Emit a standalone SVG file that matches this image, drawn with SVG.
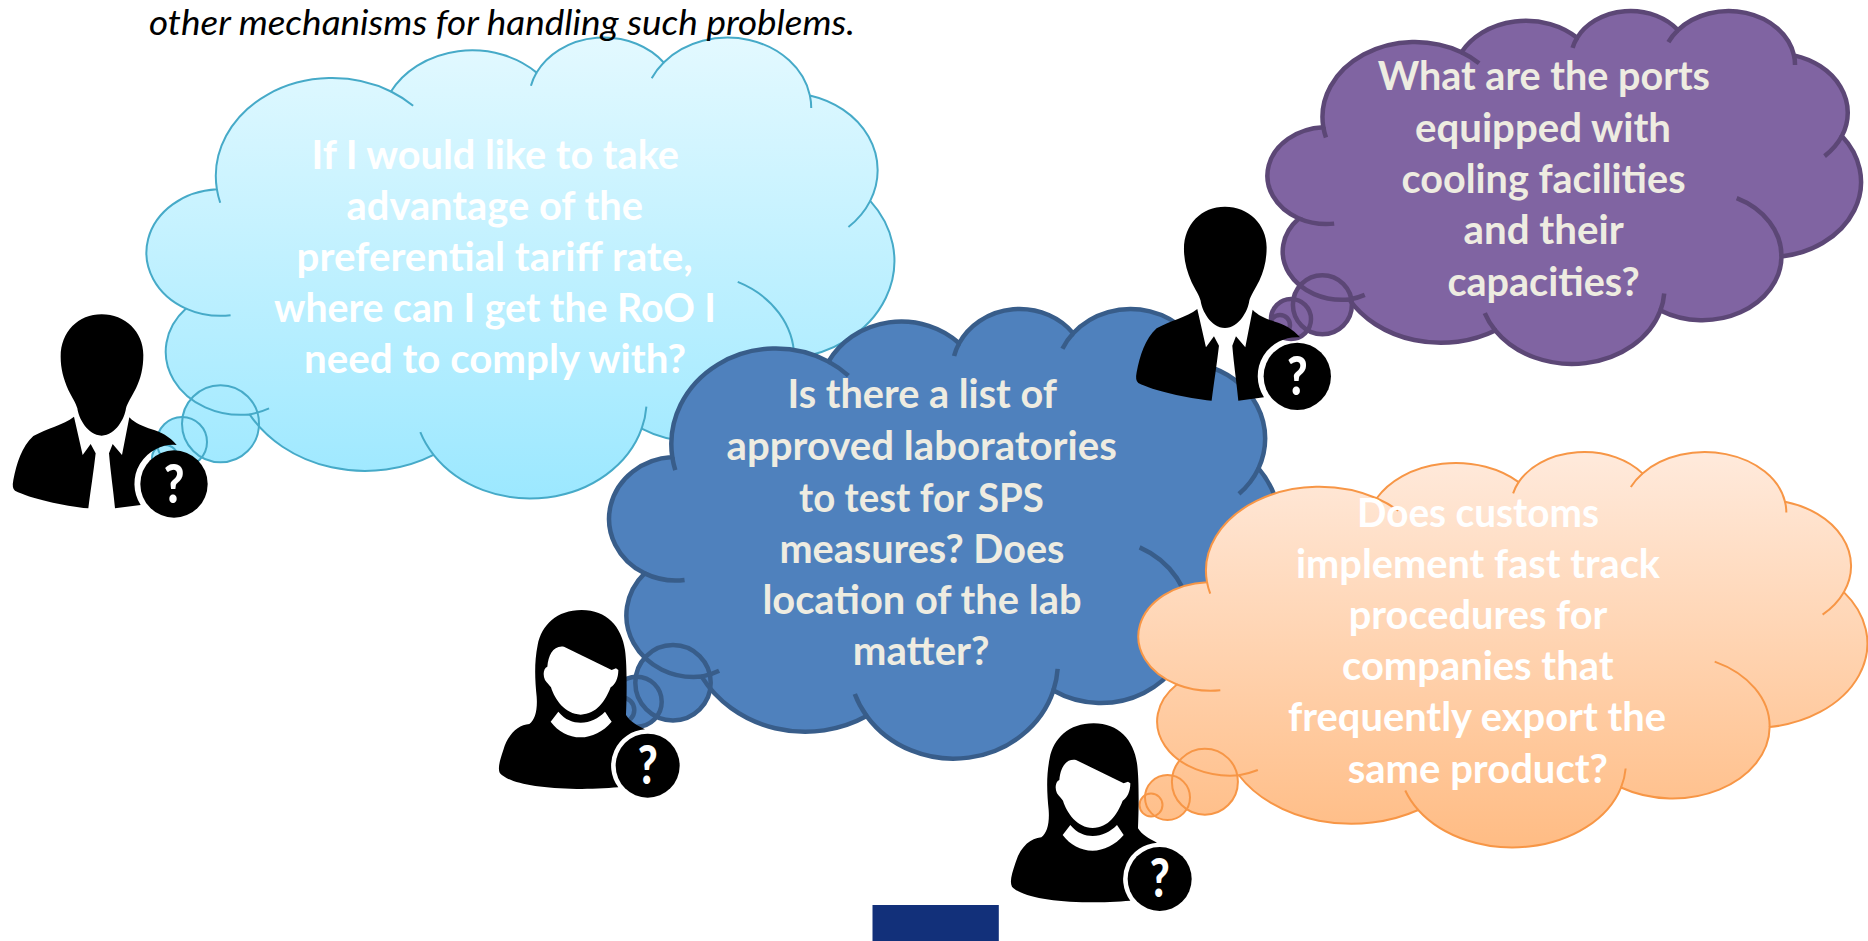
<svg xmlns="http://www.w3.org/2000/svg" xmlns:xlink="http://www.w3.org/1999/xlink" width="1868" height="941" viewBox="0 0 1868 941">
<style>
.q{font-family:Lato,"Liberation Sans",sans-serif;font-weight:700;font-size:40px}
.w{fill:#fff}.t{fill:#EEECE1}
.ns{vector-effect:non-scaling-stroke}
.d{fill:none}
.b{stroke:none}
.s{fill:none}
.qm{font-family:Lato,"Liberation Sans",sans-serif;font-weight:900;font-size:160px;fill:#fff;text-anchor:middle}
.top{font-family:Lato,"Liberation Sans",sans-serif;font-style:italic;font-size:35px;fill:#000}
</style>
<defs>
<linearGradient id="cy" x1="0" y1="0" x2="0" y2="1"><stop offset="0" stop-color="#E3F9FF"/><stop offset="1" stop-color="#9CE8FF"/></linearGradient>
<linearGradient id="cyU" gradientUnits="userSpaceOnUse" x1="0" y1="36" x2="0" y2="499"><stop offset="0" stop-color="#E3F9FF"/><stop offset="1" stop-color="#9CE8FF"/></linearGradient>
<linearGradient id="or" x1="0" y1="0" x2="0" y2="1"><stop offset="0" stop-color="#FFEADC"/><stop offset="1" stop-color="#FFBC84"/></linearGradient>
<linearGradient id="orU" gradientUnits="userSpaceOnUse" x1="0" y1="451" x2="0" y2="848"><stop offset="0" stop-color="#FFEADC"/><stop offset="1" stop-color="#FFBC84"/></linearGradient>
<path id="cl" class="ns" d="M3900 14370A6753 9190 0 0 1 14004 5201A5333 7267 0 0 1 22455 3432A4365 5945 0 0 1 29832 2481A4857 6595 0 0 1 38317 5576A5333 7273 0 0 1 41818 15459A6775 9220 0 0 1 37402 30204A5785 7867 0 0 1 28551 36812A6752 9215 0 0 1 16476 39264A7720 10543 0 0 1 5799 35470A4360 5918 0 0 1 2107 25548A4345 5945 0 0 1 3900 14370Z"/>
<path id="de" class="ns d" d="M4693 26177A4345 5945 0 0 1 2107 25548M6928 34899A4360 5918 0 0 1 5799 35470M16476 39264A6752 9215 0 0 1 15705 37141M28827 34735A6752 9215 0 0 1 28551 36812M34129 23054A5785 7867 0 0 1 37402 30204M41818 15459A5333 7273 0 0 1 40553 17912M38317 5576A4857 6595 0 0 1 38394 6745M29135 3958A4857 6595 0 0 1 29832 2481M22127 4659A4365 5945 0 0 1 22455 3432M14004 5201A6753 9190 0 0 1 15290 6544M3900 14370A6753 9190 0 0 0 4093 15630"/>
<g id="manShape" transform="scale(.33333)">
<path d="M305 43C235 43 182 95 182 170C182 205 190 235 205 270C215 290 228 310 232 325C236 355 262 405 305 407C348 405 374 355 378 325C382 310 395 290 408 265C422 235 430 205 430 165C430 95 375 43 305 43Z"/>
<path d="M222 350L248 465L272 432L287 460C280 520 272 570 265 625C190 618 90 595 45 572Q35 565 40 540C50 490 65 440 100 408C140 385 190 375 222 350Z"/>
<path d="M388 352L366 465L338 432L327 460C332 520 340 570 345 625L422 615A117 117 0 0 1 530 435C510 410 480 395 455 388C430 380 405 370 388 352Z"/>
<circle cx="522" cy="552" r="101"/>
<text class="qm" x="522" y="608" textLength="62" lengthAdjust="spacingAndGlyphs">?</text>
</g>
<g id="womanShape" transform="scale(.33333)">
<path fill-rule="evenodd" d="M275 30C200 30 155 75 143 135C132 190 135 240 140 290C143 330 135 360 118 372C85 375 55 400 40 450C30 480 22 505 30 520C55 548 140 565 260 567C300 567 350 565 385 562A109 109 0 0 1 465 388C440 375 420 365 408 345C410 300 412 200 405 150C395 80 350 30 275 30ZM222 140C190 135 175 165 172 200C160 205 158 225 165 240C172 250 178 255 183 262C195 300 225 342 272 344C320 342 345 305 362 262C375 255 385 235 385 210L378 205L365 210ZM205 335C225 360 250 368 272 368C300 368 325 355 345 335L365 365C340 395 305 412 272 412C235 412 205 395 182 365Z"/>
<circle cx="473" cy="497" r="96"/>
<text class="qm" x="473" y="552" textLength="60" lengthAdjust="spacingAndGlyphs">?</text>
</g>
</defs>
<rect width="1868" height="941" fill="#fff"/>
<g id="connectors"></g>

<g id="cloud-roo">
<g fill="url(#cyU)" class="b"><circle cx="220.5" cy="423.7" r="38.5"/><circle cx="182" cy="442" r="25"/><circle cx="165" cy="458" r="13"/></g>
<use href="#cl" transform="translate(149.7 36) scale(.01723 .010668)" fill="url(#cy)" stroke="#46AAC8" stroke-width="2"/>
<g class="s" stroke="#46AAC8" stroke-width="2"><circle cx="220.5" cy="423.7" r="38.5"/><circle cx="182" cy="442" r="25"/><circle cx="165" cy="458" r="13"/></g>
<use href="#de" transform="translate(149.7 36) scale(.01723 .010668)" stroke="#46AAC8" stroke-width="2"/>
<g class="q w" transform="translate(0 1)">
<text x="311.5" y="168" textLength="367.5" lengthAdjust="spacingAndGlyphs">If I would like to take</text>
<text x="346.6" y="219" textLength="296.4" lengthAdjust="spacingAndGlyphs">advantage of the</text>
<text x="296.6" y="270" textLength="396" lengthAdjust="spacingAndGlyphs">preferential tariff rate,</text>
<text x="274" y="321" textLength="442" lengthAdjust="spacingAndGlyphs">where can I get the RoO I</text>
<text x="304" y="372" textLength="382" lengthAdjust="spacingAndGlyphs">need to comply with?</text>
</g>
</g>
<g id="person-man-1"><use href="#manShape" transform="translate(0 300)"/></g>

<g id="cloud-sps">
<g fill="#4F81BD" class="b"><circle cx="673" cy="682.7" r="37.7"/><circle cx="636.7" cy="701.7" r="25"/><circle cx="621.7" cy="710" r="12.6"/></g>
<use href="#cl" transform="translate(612 307.5) scale(.01546 .010406)" fill="#4F81BD" stroke="#385D8A" stroke-width="4.5"/>
<g class="s" stroke="#385D8A" stroke-width="4.5"><circle cx="673" cy="682.7" r="37.7"/><circle cx="636.7" cy="701.7" r="25"/><circle cx="621.7" cy="710" r="12.6"/></g>
<use href="#de" transform="translate(612 307.5) scale(.01546 .010406)" stroke="#385D8A" stroke-width="4.5"/>
<g class="q t" transform="translate(0 1)">
<text x="787.4" y="407" textLength="269.6" lengthAdjust="spacingAndGlyphs">Is there a list of</text>
<text x="726.6" y="459" textLength="390.2" lengthAdjust="spacingAndGlyphs">approved laboratories</text>
<text x="799" y="510.5" textLength="244.8" lengthAdjust="spacingAndGlyphs">to test for SPS</text>
<text x="779.4" y="561.7" textLength="285.1" lengthAdjust="spacingAndGlyphs">measures? Does</text>
<text x="762.4" y="612.5" textLength="319.1" lengthAdjust="spacingAndGlyphs">location of the lab</text>
<text x="852.8" y="663.5" textLength="136.8" lengthAdjust="spacingAndGlyphs">matter?</text>
</g>
</g>
<g id="person-woman-1"><use href="#womanShape" transform="translate(490 600)"/></g>

<g id="cloud-ports">
<g fill="#8064A2" class="b"><circle cx="1322.4" cy="304.7" r="29.5"/><circle cx="1291" cy="319" r="20"/><circle cx="1280" cy="325" r="10"/></g>
<use href="#cl" transform="translate(1270 9.8) scale(.013675 .008168)" fill="#8064A2" stroke="#5C4776" stroke-width="4.5"/>
<g class="s" stroke="#5C4776" stroke-width="4.5"><circle cx="1322.4" cy="304.7" r="29.5"/><circle cx="1291" cy="319" r="20"/><circle cx="1280" cy="325" r="10"/></g>
<use href="#de" transform="translate(1270 9.8) scale(.013675 .008168)" stroke="#5C4776" stroke-width="4.5"/>
<g class="q t" transform="translate(0 1)">
<text x="1377.7" y="89" textLength="332.3" lengthAdjust="spacingAndGlyphs">What are the ports</text>
<text x="1415" y="140.5" textLength="256" lengthAdjust="spacingAndGlyphs">equipped with</text>
<text x="1401.5" y="192" textLength="284.1" lengthAdjust="spacingAndGlyphs">cooling facilities</text>
<text x="1463.5" y="243.3" textLength="160.2" lengthAdjust="spacingAndGlyphs">and their</text>
<text x="1447.4" y="294.7" textLength="192.4" lengthAdjust="spacingAndGlyphs">capacities?</text>
</g>
</g>
<g id="person-man-2"><use href="#manShape" transform="translate(1123.3 192.3)"/></g>

<g id="cloud-customs">
<g fill="url(#orU)" class="b"><circle cx="1204.9" cy="781.7" r="33"/><circle cx="1167.5" cy="797.5" r="22.5"/><circle cx="1151" cy="805" r="11.5"/></g>
<use href="#cl" transform="translate(1141.5 450.7) scale(.016795 .00915)" fill="url(#or)" stroke="#F79646" stroke-width="2"/>
<g class="s" stroke="#F79646" stroke-width="2"><circle cx="1204.9" cy="781.7" r="33"/><circle cx="1167.5" cy="797.5" r="22.5"/><circle cx="1151" cy="805" r="11.5"/></g>
<use href="#de" transform="translate(1141.5 450.7) scale(.016795 .00915)" stroke="#F79646" stroke-width="2"/>
<g class="q w" transform="translate(0 1)">
<text x="1357" y="525.7" textLength="242" lengthAdjust="spacingAndGlyphs">Does customs</text>
<text x="1296" y="576.7" textLength="364" lengthAdjust="spacingAndGlyphs">implement fast track</text>
<text x="1348.8" y="627.7" textLength="258.6" lengthAdjust="spacingAndGlyphs">procedures for</text>
<text x="1342" y="678.7" textLength="271.5" lengthAdjust="spacingAndGlyphs">companies that</text>
<text x="1288" y="730" textLength="378" lengthAdjust="spacingAndGlyphs">frequently export the</text>
<text x="1347.7" y="781.5" textLength="260.3" lengthAdjust="spacingAndGlyphs">same product?</text>
</g>
</g>
<g id="person-woman-2"><use href="#womanShape" transform="translate(1002 713.3)"/></g>

<text class="top" x="149" y="34.5" textLength="706" lengthAdjust="spacingAndGlyphs">other mechanisms for handling such problems.</text>
<rect id="footer-bar" x="872.5" y="905" width="126.3" height="36" fill="#12307A"/>
</svg>
